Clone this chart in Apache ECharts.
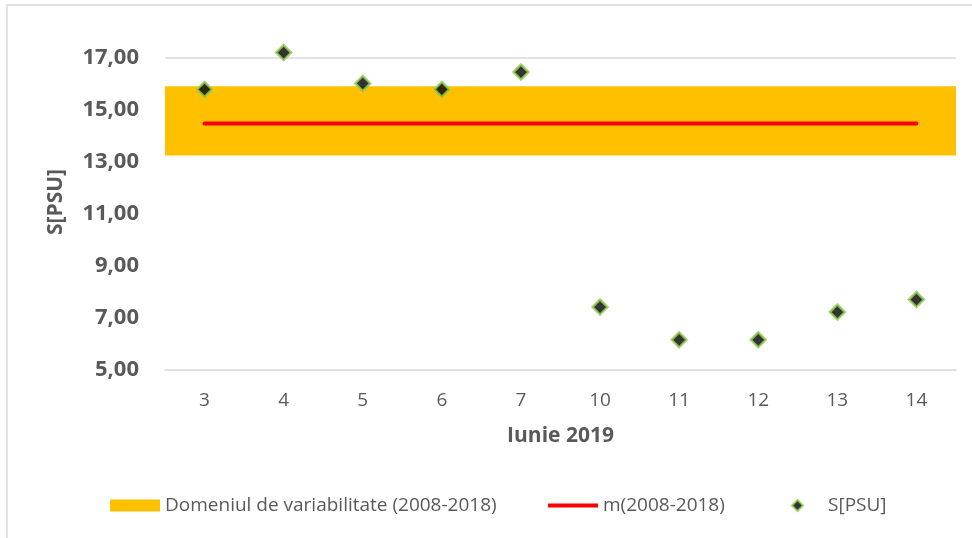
<!DOCTYPE html>
<html lang="ro">
<head>
    <meta charset="UTF-8">
    <title>S[PSU] - Iunie 2019</title>
    <script src="https://cdn.jsdelivr.net/npm/echarts@6/dist/echarts.min.js"></script>
    <style>
        body { margin: 0; background: #fff; }
        #chart { width: 972px; height: 538px; }
    </style>
</head>
<body>
    <div id="chart"></div>
    <script>
        var chart = echarts.init(document.getElementById('chart'));

        // Date
        var zile = ['3', '4', '5', '6', '7', '10', '11', '12', '13', '14'];
        var salinitate = [15.79, 17.21, 16.02, 15.79, 16.46, 7.42, 6.16, 6.16, 7.23, 7.71];
        var medie = [14.48, 14.48, 14.48, 14.48, 14.48, 14.48, 14.48, 14.48, 14.48, 14.48];
        var domeniuMin = 13.25;
        var domeniuMax = 15.91;
        var yMin = 5, yMax = 17, yPas = 2;

        var gri = '#595959';
        var numeDomeniu = 'Domeniul de variabilitate (2008-2018)';
        var numeMedie = 'm(2008-2018)';
        var numeS = 'S[PSU]';

        var legendaText = { color: gri, fontSize: 19, fontFamily: 'Open Sans' };

        var option = {
            animation: false,
            textStyle: { fontFamily: 'Open Sans' },
            graphic: [{
                type: 'rect',
                shape: { x: 7, y: 5, width: 1000, height: 600 },
                style: { fill: null, stroke: '#D9D9D9', lineWidth: 1.5 },
                silent: true
            }],
            grid: { left: 165, right: 16, top: 58, bottom: 168 },
            legend: [
                {
                    data: [{ name: numeDomeniu, icon: 'rect' }],
                    left: 110, top: 496, padding: 0, itemWidth: 50, itemHeight: 12,
                    textStyle: legendaText
                },
                {
                    data: [{ name: numeMedie, icon: 'rect' }],
                    left: 548, top: 496, padding: 0, itemWidth: 50, itemHeight: 4,
                    textStyle: legendaText
                },
                {
                    data: [{ name: numeS, icon: 'diamond' }],
                    left: 791, top: 496, padding: 0, itemWidth: 11, itemHeight: 11,
                    itemStyle: { borderColor: '#92D050', borderWidth: 2 },
                    textStyle: Object.assign({ padding: [0, 0, 0, 20] }, legendaText)
                }
            ],
            xAxis: {
                type: 'category',
                data: zile,
                z: 5,
                name: 'Iunie 2019',
                nameLocation: 'middle',
                nameGap: 56,
                nameTextStyle: { color: gri, fontSize: 21, fontWeight: 'bold' },
                axisLine: { lineStyle: { color: '#D9D9D9', width: 1.5 } },
                axisTick: { show: false },
                axisLabel: { color: gri, fontSize: 19, margin: 21 }
            },
            yAxis: {
                type: 'value',
                min: yMin,
                max: yMax,
                interval: yPas,
                name: 'S[PSU]',
                nameLocation: 'middle',
                nameGap: 98,
                nameTextStyle: { color: gri, fontSize: 21, fontWeight: 'bold', padding: [0, 0, 0, 24] },
                axisLine: { show: false },
                axisTick: { show: false },
                splitLine: { lineStyle: { color: '#D9D9D9', width: 1.5 } },
                axisLabel: {
                    color: gri, fontSize: 22, fontWeight: 'bold', margin: 26,
                    formatter: function (v) { return v.toFixed(2).replace('.', ','); }
                }
            },
            series: [
                {
                    name: numeDomeniu,
                    type: 'line',
                    data: [],
                    itemStyle: { color: '#FFC000' },
                    markArea: {
                        silent: true,
                        data: [
                            [{ yAxis: yMin, itemStyle: { color: '#FFFFFF' } }, { yAxis: domeniuMin }],
                            [{ yAxis: domeniuMin, itemStyle: { color: '#FFC000' } }, { yAxis: domeniuMax }]
                        ]
                    }
                },
                {
                    name: numeMedie,
                    type: 'line',
                    data: medie,
                    symbol: 'none',
                    itemStyle: { color: '#FF0000' },
                    lineStyle: { color: '#FF0000', width: 4, cap: 'round' },
                    z: 3
                },
                {
                    name: numeS,
                    type: 'scatter',
                    data: salinitate,
                    symbol: 'diamond',
                    symbolSize: 15,
                    clip: false,
                    itemStyle: { color: '#000000', borderColor: '#92D050', borderWidth: 2.5 },
                    z: 4
                }
            ]
        };

        chart.setOption(option);
    </script>
</body>
</html>
